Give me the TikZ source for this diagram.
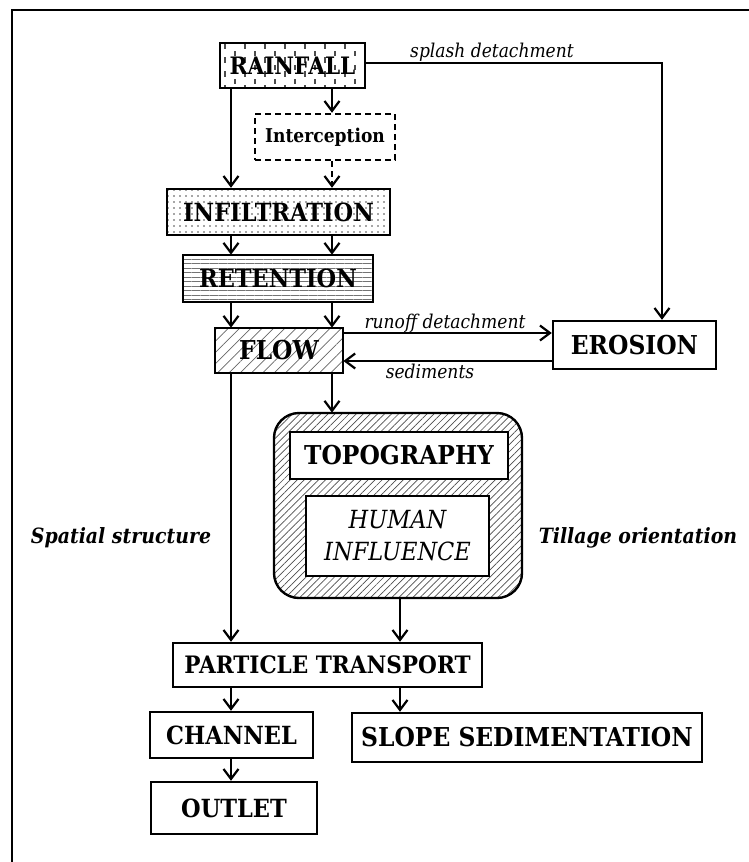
\documentclass[tikz,border=0pt]{standalone}
\usepackage{fontspec}
\setmainfont{DejaVu Serif}[FakeStretch=0.9]
\usetikzlibrary{arrows.meta,patterns,patterns.meta}
\pgfdeclarepatternformonly{rainticks}{\pgfqpoint{-1pt}{-1pt}}{\pgfqpoint{21pt}{15pt}}{\pgfqpoint{20pt}{14pt}}{%
  \pgfsetlinewidth{1.1pt}%
  \pgfpathmoveto{\pgfqpoint{5pt}{1pt}}\pgfpathlineto{\pgfqpoint{5pt}{7pt}}%
  \pgfpathmoveto{\pgfqpoint{15pt}{8pt}}\pgfpathlineto{\pgfqpoint{15pt}{13pt}}%
  \pgfusepath{stroke}}
\newcommand{\fsz}[1]{\fontsize{#1}{#1}\selectfont\bfseries}
\tikzset{
  box/.style={draw, line width=2.4pt, inner sep=0pt, font=\fsz{25}, align=center},
  arr/.style={line width=2.2pt, -{Straight Barb[length=10pt,width=15pt]}},
  lab/.style={font=\fontsize{19}{22}\selectfont\itshape, inner sep=0pt},
  side/.style={font=\fontsize{21}{24}\selectfont\bfseries\itshape, inner sep=0pt},
}
\begin{document}
\begin{tikzpicture}[x=1pt,y=-1pt]
\useasboundingbox (0,0) rectangle (749,862);
% frame
\draw[line width=2.5pt] (12,862) -- (12,10) -- (749,10);
% helper coordinates
\coordinate (xl) at (231,0);
\coordinate (xm) at (332,0);
\coordinate (xt) at (400,0);
\coordinate (xs) at (662,0);
\coordinate (ys) at (0,63);
\coordinate (yr) at (0,333);
\coordinate (yd) at (0,361);
% nodes
\node[box, font=\fsz{24}, minimum width=145, minimum height=45, pattern=rainticks, pattern color=black!70] (rain) at (292.5,65.5) {RAINFALL};
\node[box, dashed, dash pattern=on 6pt off 4pt, minimum width=140, minimum height=46, font=\fsz{19}] (inter) at (325,137) {Interception};
\node[box, minimum width=223, minimum height=46, pattern={Dots[distance=6pt,radius=0.9pt]}, pattern color=black!70] (infil) at (278.5,212) {INFILTRATION};
\node[box, minimum width=190, minimum height=47, pattern={Lines[angle=0,distance=4.5pt,line width=0.6pt]}, pattern color=black!55] (reten) at (278,278.5) {RETENTION};
\node[box, font=\fsz{26}, minimum width=128, minimum height=45, pattern={Lines[angle=45,distance=8pt,line width=0.7pt]}, pattern color=black!60] (flow) at (279,350.5) {FLOW};
\node[box, font=\fsz{26}, minimum width=163, minimum height=48] (eros) at (634.5,345) {EROSION};
\node[draw, line width=2.4pt, rounded corners=25pt, minimum width=248, minimum height=185, inner sep=0pt, pattern={Lines[angle=45,distance=5pt,line width=0.7pt]}, pattern color=black!70] (terr) at (398,505.5) {};
\node[box, font=\fsz{26}, fill=white, minimum width=218, minimum height=47] (topo) at (399,455.5) {TOPOGRAPHY};
\node[box, fill=white, minimum width=183, minimum height=80, font=\fontsize{25}{32}\selectfont\itshape] (human) at (397.5,536) {HUMAN\\INFLUENCE};
\node[box, font=\fsz{24}, minimum width=309, minimum height=44] (pt) at (327.5,665) {PARTICLE TRANSPORT};
\node[box, minimum width=163, minimum height=46] (chan) at (231.5,735) {CHANNEL};
\node[box, font=\fsz{26}, minimum width=350, minimum height=49] (slope) at (527,737.5) {SLOPE SEDIMENTATION};
\node[box, minimum width=166, minimum height=52] (outlet) at (234,808) {OUTLET};
% labels
\node[lab, anchor=base] (lsplash) at (492,57) {splash detachment};
\node[lab, anchor=base] (lrun) at (445,328) {runoff detachment};
\node[lab, anchor=base] (lsed) at (430,378) {sediments};
\node[side, anchor=base] (lspat) at (121,543) {Spatial structure};
\node[side, anchor=base] (ltill) at (638,543) {Tillage orientation};
% connectors
\draw[arr] (rain.south -| xl) -- (infil.north -| xl);
\draw[arr] (rain.south -| xm) -- (inter.north -| xm);
\draw[arr, dash pattern=on 6pt off 4pt] (inter.south -| xm) -- (infil.north -| xm);
\draw[arr] (infil.south -| xl) -- (reten.north -| xl);
\draw[arr] (infil.south -| xm) -- (reten.north -| xm);
\draw[arr] (reten.south -| xl) -- (flow.north -| xl);
\draw[arr] (reten.south -| xm) -- (flow.north -| xm);
\draw[arr] (rain.east |- ys) -- (xs |- ys) -- (eros.north -| xs);
\draw[arr] (flow.east |- yr) -- (eros.west |- yr);
\draw[arr] (eros.west |- yd) -- (flow.east |- yd);
\draw[arr] (flow.south -| xm) -- (terr.north -| xm);
\draw[arr] (flow.south -| xl) -- (pt.north -| xl);
\draw[arr] (terr.south -| xt) -- (pt.north -| xt);
\draw[arr] (pt.south -| xl) -- (chan.north -| xl);
\draw[arr] (pt.south -| xt) -- (slope.north -| xt);
\draw[arr] (chan.south -| xl) -- (outlet.north -| xl);
\end{tikzpicture}
\end{document}
